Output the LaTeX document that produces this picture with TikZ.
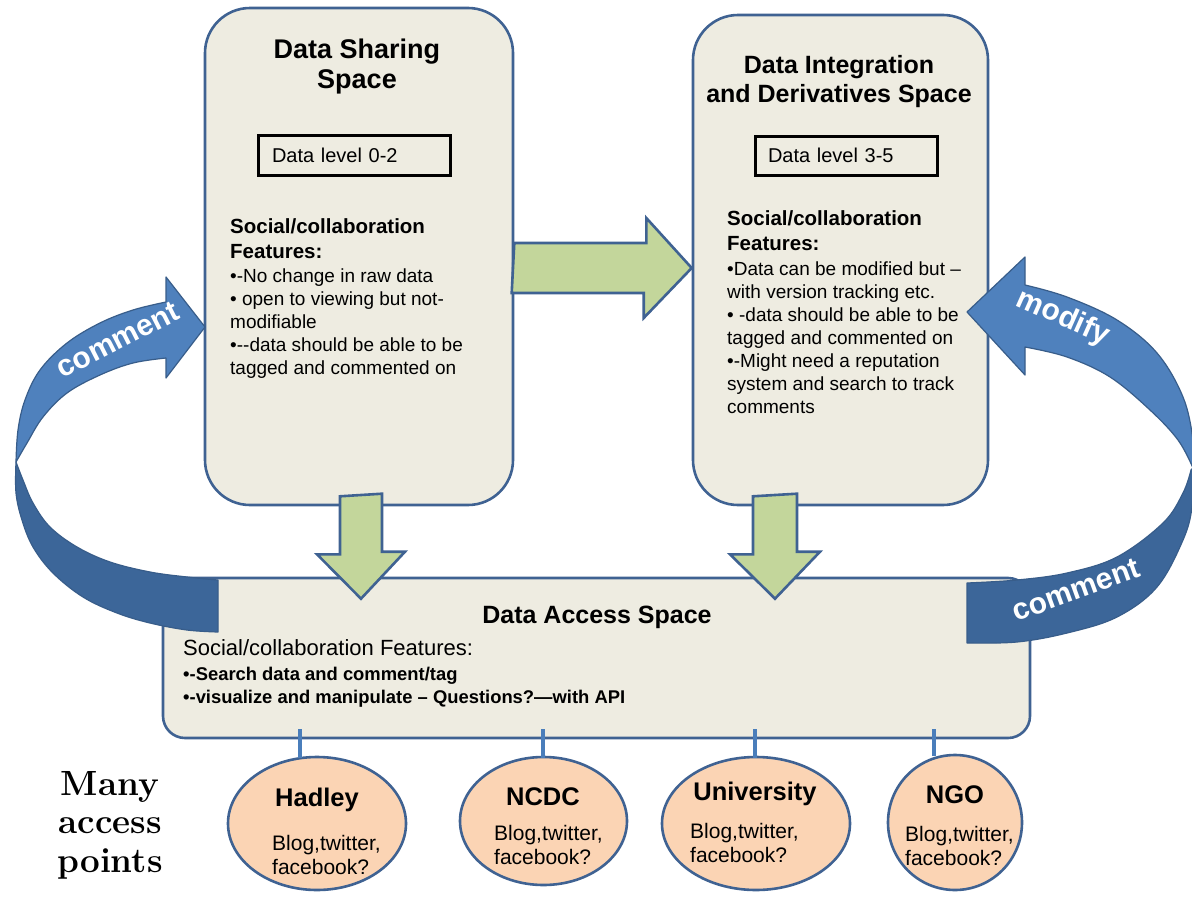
\documentclass[tikz,border=0pt]{standalone}
\usepackage{fontspec}
\newfontfamily\arial{Liberation Sans}
\usetikzlibrary{calc,shapes.geometric}

\definecolor{boxfill}{HTML}{EEECE1}
\definecolor{boxline}{HTML}{3F6292}
\definecolor{greenfill}{HTML}{C3D69B}
\definecolor{bandlight}{HTML}{4F81BD}
\definecolor{banddark}{HTML}{3C6699}
\definecolor{bandedge}{HTML}{385D8A}
\definecolor{peach}{HTML}{FBD4B4}
\definecolor{linkblue}{HTML}{4A7EBB}

\begin{document}
\begin{tikzpicture}[x=1pt,y=-1pt,
  % multi-line nodes below are anchored at the baseline of their last line
  spacebox/.style={draw=boxline, line width=2.6pt, fill=boxfill, inner sep=0pt},
  lvlbox/.style={draw=black, line width=3pt, inner sep=0pt, align=left,
    font=\arial\fontsize{20}{23}\selectfont},
  bigttl/.style={inner sep=0pt, anchor=base, align=center},
  headtxt/.style={inner sep=0pt, anchor=base west, align=left,
    font=\arial\bfseries\fontsize{20.5}{25}\selectfont},
  bodytxt/.style={inner sep=0pt, anchor=base west, align=left,
    font=\arial\fontsize{19}{23}\selectfont},
  blockarrow/.style={draw=boxline, line width=2.6pt, fill=greenfill, line join=miter},
  bandL/.style={fill=bandlight, draw=bandedge, line width=1.2pt, line join=round},
  bandD/.style={fill=banddark, draw=bandedge, line width=1.2pt, line join=round},
  bandtxt/.style={inner sep=0pt, text=white, font=\arial\bfseries\fontsize{30}{30}\selectfont},
  link/.style={draw=linkblue, line width=4pt},
  accpt/.style={ellipse, draw=boxline, line width=2.6pt, fill=peach, inner sep=0pt},
  accttl/.style={inner sep=0pt, anchor=base, font=\arial\bfseries\fontsize{25.5}{28}\selectfont},
  accbody/.style={inner sep=0pt, anchor=base west, align=left,
    font=\arial\fontsize{21}{24.5}\selectfont}
]
\useasboundingbox (0,0) rectangle (1192,897);
\fill[white] (0,0) rectangle (1192,897);

% ---- the three spaces ----
\node[spacebox, rounded corners=45pt, minimum width=308pt, minimum height=497pt] (share) at (359,256.5) {};
\node[spacebox, rounded corners=45pt, minimum width=295pt, minimum height=490pt] (integ) at (840.5,260) {};
\node[spacebox, rounded corners=22pt, minimum width=867pt, minimum height=160pt] (access) at (596.5,658) {};

% ---- Data Sharing Space ----
\node[bigttl, font=\arial\bfseries\fontsize{27}{30}\selectfont] (shareTitle) at (357,88) {Data Sharing\\Space};
\node[lvlbox, minimum width=192pt, minimum height=40pt, text width=164pt] (lvlA) at (354,155) {Data level 0-2};
\node[headtxt] (shareHead) at (230,258) {Social/collaboration\\Features:};
\node[bodytxt] (shareBody) at (230,374) {•-No change in raw data\\• open to viewing but not-\\modifiable\\•-{}-data should be able to be\\tagged and commented on};

% ---- Data Integration and Derivatives Space ----
\node[bigttl, font=\arial\bfseries\fontsize{25}{29}\selectfont] (integTitle) at (839,102) {Data Integration\\and Derivatives Space};
\node[lvlbox, minimum width=182pt, minimum height=39pt, text width=156pt] (lvlB) at (846,155.5) {Data level 3-5};
\node[headtxt] (integHead) at (727,250) {Social/collaboration\\Features:};
\node[bodytxt] (integBody) at (727,413) {•Data can be modified but –\\with version tracking etc.\\• -data should be able to be\\tagged and commented on\\•-Might need a reputation\\system and search to track\\comments};

% ---- Data Access Space ----
\node[bigttl, font=\arial\bfseries\fontsize{25}{28}\selectfont] (accessTitle) at (597,623) {Data Access Space};
\node[inner sep=0pt, anchor=base west, font=\arial\fontsize{22}{25}\selectfont] (accessHead) at (183,655) {Social/collaboration Features:};
\node[inner sep=0pt, anchor=base west, align=left, font=\arial\bfseries\fontsize{18.4}{23}\selectfont] (accessBody) at (183,703) {•-Search data and comment/tag\\•-visualize and manipulate – Questions?—with API};

% ---- block arrows between the spaces ----
\coordinate (r1) at (share.east |- 0,268);
\coordinate (r2) at (integ.west |- 0,268);
\draw[blockarrow] (r1) ++(0,-25) -- ++(132,0) -- ++(0,-25) -- (r2) -- ++(-48,50) -- ++(0,-25) -- ++(-132,0) -- cycle;

\coordinate (d1a) at (361,0 |- share.south);
\coordinate (d1b) at (361,0 |- access.north);
\draw[blockarrow] (d1a) ++(-21,-10) -- ++(0,58) -- ++(-23,0) -- ($(d1b)+(0,22)$) -- ++(44,-47) -- ++(-23,0) -- ++(0,-58) -- cycle;

\coordinate (d2a) at (775,0 |- integ.south);
\coordinate (d2b) at (775,0 |- access.north);
\draw[blockarrow] (d2a) ++(-22,-10) -- ++(0,58) -- ++(-23,0) -- ($(d2b)+(0,22)$) -- ++(45,-47) -- ++(-23,0) -- ++(0,-58) -- cycle;

% ---- curved ribbon arrows ----
% left ribbon: underside (dark) then front face with head
\filldraw[bandD] plot[smooth, tension=0.6] coordinates {(16,462) (16,493) (22,520) (33,547) (53,573) (83,597) (117,613) (150,623) (187,630) (218,632)}
  -- (218,580) -- plot[smooth, tension=0.6] coordinates {(218,580) (187,577) (150,572) (110,562) (77,547) (50,527) (33,503) (23,480) (16,462)} -- cycle;
\filldraw[bandL] plot[smooth, tension=0.6] coordinates {(166,302) (133,310) (100,323) (67,343) (40,370) (25,400) (18,430) (16,462)}
  -- plot[smooth, tension=0.6] coordinates {(16,462) (27,443) (43,417) (67,393) (100,375) (133,363) (166,358)}
  -- (166,378) -- (205,327) -- (166,277) -- cycle;

% right ribbon
\filldraw[bandL] plot[smooth, tension=0.6] coordinates {(1025,285) (1067,297) (1117,320) (1157,353) (1183,397) (1193,440) (1193,468)}
  -- plot[smooth, tension=0.6] coordinates {(1193,468) (1178,440) (1150,410) (1110,377) (1067,357) (1025,347)}
  -- (1025,375) -- (967,312) -- (1025,257) -- cycle;
\filldraw[bandD] plot[smooth, tension=0.6] coordinates {(1193,468) (1192,507) (1183,540) (1157,587) (1117,617) (1067,633) (1017,642) (967,643)}
  -- (967,583) -- plot[smooth, tension=0.6] coordinates {(967,583) (1017,580) (1067,573) (1117,557) (1163,523) (1183,493) (1191,470)} -- cycle;

\node[bandtxt, rotate=27] (cmtL) at (118,340) {comment};
\node[bandtxt, rotate=-24] (modR) at (1063,318) {modify};
\node[bandtxt, rotate=20] (cmtR) at (1076,590) {comment};

% ---- access points ----
\node[accpt, minimum width=178pt, minimum height=133pt] (hadley) at (317,823.5) {};
\node[accpt, minimum width=167pt, minimum height=128pt] (ncdc) at (543.5,821) {};
\node[accpt, minimum width=188pt, minimum height=133pt] (univ) at (756,823.5) {};
\node[accpt, minimum width=134pt, minimum height=135pt] (ngo) at (955,822.5) {};

\draw[link] ([yshift=10pt]access.south -| 300,0) -- ([yshift=-2pt]300,0 |- hadley.north);
\draw[link] ([yshift=10pt]access.south -| 543,0) -- ([yshift=-2pt]543,0 |- ncdc.north);
\draw[link] ([yshift=10pt]access.south -| 755,0) -- ([yshift=-2pt]755,0 |- univ.north);
\draw[link] ([yshift=10pt]access.south -| 934,0) -- ([yshift=-2pt]934,0 |- ngo.north);

\node[accttl] (hadleyT) at (317,806) {Hadley};
\node[accbody] (hadleyB) at (272,874.5) {Blog,twitter,\\facebook?};
\node[accttl] (ncdcT) at (543,805) {NCDC};
\node[accbody] (ncdcB) at (494,864.5) {Blog,twitter,\\facebook?};
\node[accttl] (univT) at (755,800) {University};
\node[accbody] (univB) at (690,862.5) {Blog,twitter,\\facebook?};
\node[accttl] (ngoT) at (955,803) {NGO};
\node[accbody] (ngoB) at (905,865.5) {Blog,twitter,\\facebook?};

\node[inner sep=0pt, anchor=base, align=center, font=\bfseries\fontsize{35}{38.5}\selectfont] (many) at (110,872) {Many\\access\\points};
\end{tikzpicture}
\end{document}
